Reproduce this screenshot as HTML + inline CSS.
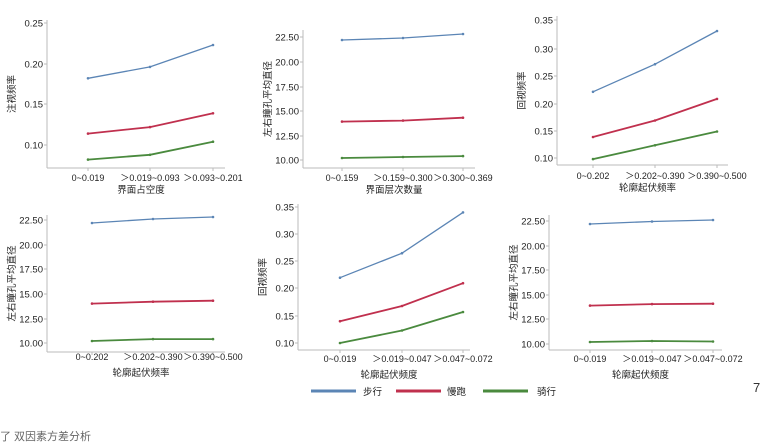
<!DOCTYPE html>
<html><head><meta charset="utf-8"><style>
body{margin:0;background:#fff;}
svg{display:block;font-family:"Liberation Sans","Noto Sans CJK SC",sans-serif;}
</style></head><body>
<svg id="s" width="764" height="447" viewBox="0 0 764 447" xmlns="http://www.w3.org/2000/svg"></svg>
<script>
const s=document.getElementById('s');let h='';
const C=['#5b85b5','#c0304e','#4a8a3e'];
function panel(p){
  const {ax,top,bot,right,ticks,xs,data,xl,xlab,ylab,tlY,labY}=p;
  h+=`<line x1="${ax}" y1="${top}" x2="${ax}" y2="${bot}" stroke="#bbb" stroke-width="1"/>`;
  h+=`<line x1="${ax}" y1="${bot}" x2="${right}" y2="${bot}" stroke="#bbb" stroke-width="1"/>`;
  const [v0,y0]=ticks[0],[v1,y1]=ticks[ticks.length-1];
  const Y=v=>y0+(v-v0)*(y1-y0)/(v1-v0);
  ticks.forEach(([v,y,t])=>{h+=`<line x1="${ax-3}" y1="${y}" x2="${ax}" y2="${y}" stroke="#bbb"/><text x="${ax-4}" y="${y+3.5}" font-size="9.5" text-anchor="end" fill="#222">${t}</text>`;});
  xs.forEach((x,i)=>{h+=`<line x1="${x}" y1="${bot}" x2="${x}" y2="${bot+3}" stroke="#bbb"/><text x="${x}" y="${tlY}" font-size="9" text-anchor="middle" fill="#222">${xl[i]}</text>`;});
  data.forEach((d,k)=>{h+=`<polyline fill="none" stroke="${C[k]}" stroke-width="${k==0?1.3:1.8}" points="${d.map((v,i)=>xs[i]+','+Y(v).toFixed(1)).join(' ')}"/>`;
    d.forEach((v,i)=>{h+=`<circle cx="${xs[i]}" cy="${Y(v).toFixed(1)}" r="1.3" fill="${C[k]}"/>`;});});
  h+=`<text x="${(ax+right)/2+5}" y="${labY}" font-size="9.5" text-anchor="middle" fill="#222">${xlab}</text>`;
  const cy=(top+bot)/2;
  h+=`<text x="${ax-32}" y="${cy}" font-size="9.5" text-anchor="middle" fill="#222" transform="rotate(-90 ${ax-32} ${cy})">${ylab}</text>`;
}
const f2=v=>v.toFixed(2);
panel({ax:47,top:20,bot:168,right:225,ticks:[[0.25,23,'0.25'],[0.20,64,'0.20'],[0.15,104,'0.15'],[0.10,145,'0.10']],xs:[88,150,213],
 data:[[.182,.196,.223],[.114,.122,.139],[.082,.088,.104]],xl:['0~0.019','＞0.019~0.093','＞0.093~0.201'],xlab:'界面占空度',ylab:'注视频率',tlY:181,labY:193});
panel({ax:303,top:30,bot:168,right:475,ticks:[[22.5,37,'22.50'],[20,62,'20.00'],[17.5,87,'17.50'],[15,111,'15.00'],[12.5,136,'12.50'],[10,160,'10.00']],xs:[342,403,463],
 data:[[22.2,22.4,22.8],[13.9,14.0,14.3],[10.2,10.3,10.4]],xl:['0~0.159','＞0.159~0.300','＞0.300~0.369'],xlab:'界面层次数量',ylab:'左右瞳孔平均直径',tlY:181,labY:193});
panel({ax:557,top:16,bot:165,right:728,ticks:[[0.35,20,'0.35'],[0.30,49,'0.30'],[0.25,76,'0.25'],[0.20,104,'0.20'],[0.15,131,'0.15'],[0.10,158,'0.10']],xs:[593,655,717],
 data:[[.22,.27,.33],[.138,.168,.207],[.098,.123,.148]],xl:['0~0.202','＞0.202~0.390','＞0.390~0.500'],xlab:'轮廓起伏频率',ylab:'回视频率',tlY:179,labY:191});
panel({ax:47,top:215,bot:352,right:225,ticks:[[22.5,220,'22.50'],[20,245,'20.00'],[17.5,269,'17.50'],[15,294,'15.00'],[12.5,319,'12.50'],[10,343,'10.00']],xs:[92,153,213],
 data:[[22.2,22.6,22.8],[14.0,14.2,14.3],[10.2,10.4,10.4]],xl:['0~0.202','＞0.202~0.390','＞0.390~0.500'],xlab:'轮廓起伏频率',ylab:'左右瞳孔平均直径',tlY:360,labY:376});
panel({ax:298,top:204,bot:350,right:470,ticks:[[0.35,207,'0.35'],[0.30,234,'0.30'],[0.25,261,'0.25'],[0.20,288,'0.20'],[0.15,316,'0.15'],[0.10,343,'0.10']],xs:[340,402,463],
 data:[[.22,.265,.34],[.14,.168,.21],[.10,.123,.157]],xl:['0~0.019','＞0.019~0.047','＞0.047~0.072'],xlab:'轮廓起伏频度',ylab:'回视频率',tlY:362,labY:378});
panel({ax:549,top:215,bot:350,right:722,ticks:[[22.5,221,'22.50'],[20,246,'20.00'],[17.5,270,'17.50'],[15,295,'15.00'],[12.5,319,'12.50'],[10,344,'10.00']],xs:[590,652,713],
 data:[[22.2,22.45,22.6],[13.9,14.05,14.1],[10.2,10.3,10.25]],xl:['0~0.019','＞0.019~0.047','＞0.047~0.072'],xlab:'轮廓起伏频度',ylab:'左右瞳孔平均直径',tlY:362,labY:378});
// legend
[[311,356,363,'步行'],[396,441,447,'慢跑'],[483,528,537,'骑行']].forEach((l,k)=>{
 h+=`<line x1="${l[0]}" y1="391" x2="${l[1]}" y2="391" stroke="${C[k]}" stroke-width="3"/><text x="${l[2]}" y="395" font-size="9.5" fill="#222">${l[3]}</text>`;});
h+=`<text x="753" y="392" font-size="13" fill="#333">7</text>`;
h+=`<text x="0" y="440" font-size="11" fill="#666">了 双因素方差分析</text>`;
s.innerHTML=h;
</script>
</body></html>
